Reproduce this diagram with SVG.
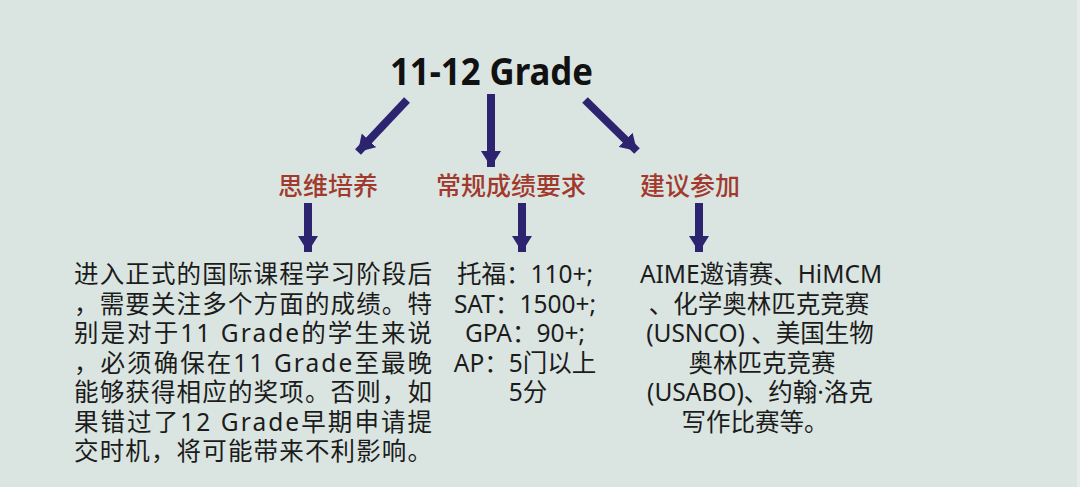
<svg xmlns="http://www.w3.org/2000/svg" width="1080" height="487" viewBox="0 0 1080 487">
<style>
.title{font-family:"Noto Sans","Noto Sans CJK SC",sans-serif;font-weight:700;font-size:37px;fill:#111}
.label{font-family:"Noto Sans CJK SC","Noto Sans",sans-serif;font-weight:500;font-size:25px;fill:#a13a2d;text-anchor:middle}
.body{font-family:"Noto Sans","Noto Sans CJK SC",sans-serif;font-size:24.5px;fill:#1c1c1c}
.c{text-anchor:middle}
.arrow{stroke:#2d2470;stroke-width:8;fill:none;marker-end:url(#head)}
</style>
<defs>
<marker id="head" viewBox="0 0 16 20" markerUnits="userSpaceOnUse" markerWidth="16" markerHeight="20" refX="16" refY="10" orient="auto">
<path d="M0,0 L16,10 L0,20 z" fill="#2d2470"/>
</marker>
</defs>
<rect width="1080" height="487" fill="#dae5e1"/>
<rect x="1077" y="0" width="3" height="487" fill="#e6ece9"/>

<g id="connectors">
<line class="arrow" x1="407" y1="100" x2="358" y2="152"/>
<line class="arrow" x1="491" y1="94" x2="491" y2="167"/>
<line class="arrow" x1="585" y1="100" x2="637" y2="151"/>
<line class="arrow" x1="308" y1="203" x2="308" y2="252"/>
<line class="arrow" x1="522" y1="203" x2="522" y2="252"/>
<line class="arrow" x1="699" y1="203" x2="699" y2="252"/>
</g>

<g id="root">
<text class="title" x="390" y="85" textLength="203" lengthAdjust="spacingAndGlyphs">11-12 Grade</text>
</g>

<g id="thinking">
<text class="label" x="328" y="195">思维培养</text>
</g>
<g id="grades">
<text class="label" x="511" y="195">常规成绩要求</text>
</g>
<g id="suggest">
<text class="label" x="690" y="195">建议参加</text>
</g>

<g id="thinking-detail" class="body">
<text x="74" y="283" textLength="358" lengthAdjust="spacing">进入正式的国际课程学习阶段后</text>
<text x="74" y="312.5" textLength="358" lengthAdjust="spacing">，需要关注多个方面的成绩。特</text>
<text x="74" y="342" textLength="358" lengthAdjust="spacing">别是对于11 Grade的学生来说</text>
<text x="74" y="371.5" textLength="358" lengthAdjust="spacing">，必须确保在11 Grade至最晚</text>
<text x="74" y="401" textLength="358" lengthAdjust="spacing">能够获得相应的奖项。否则，如</text>
<text x="74" y="430.5" textLength="358" lengthAdjust="spacing">果错过了12 Grade早期申请提</text>
<text x="74" y="460" textLength="358" lengthAdjust="spacing">交时机，将可能带来不利影响。</text>
</g>

<g id="grades-detail" class="body c">
<text x="525" y="283">托福：110+;</text>
<text x="525" y="312.5">SAT：1500+;</text>
<text x="525" y="342">GPA：90+;</text>
<text x="525" y="371.5">AP：5门以上</text>
<text x="528" y="401">5分</text>
</g>

<g id="suggest-detail" class="body c">
<text x="761" y="283">AIME邀请赛、HiMCM</text>
<text x="759" y="312.5">、化学奥林匹克竞赛</text>
<text x="760" y="342">(USNCO) 、美国生物</text>
<text x="762" y="371.5">奥林匹克竞赛</text>
<text x="760" y="401">(USABO)、约翰·洛克</text>
<text x="755" y="430.5">写作比赛等。</text>
</g>
</svg>
